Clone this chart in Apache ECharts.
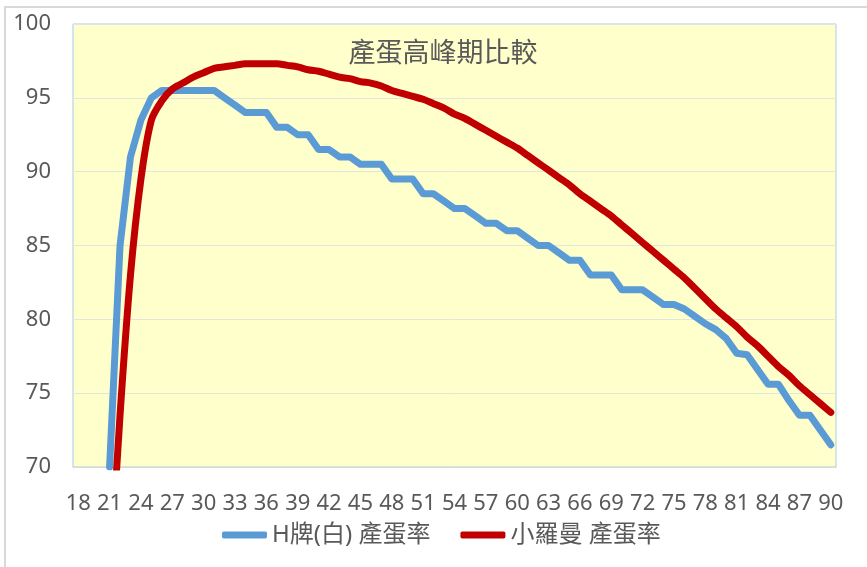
<!DOCTYPE html>
<html>
<head>
<meta charset="utf-8">
<script src="https://cdn.jsdelivr.net/npm/echarts@6/dist/echarts.min.js"></script>
<style>
  html, body { margin: 0; padding: 0; background: #ffffff; }
  #main { width: 867px; height: 567px; }
</style>
</head>
<body>
<div id="main"></div>
<script>
// 週齡 (weeks)
var weeks = ['18', '19', '20', '21', '22', '23', '24', '25', '26', '27', '28', '29', '30',
    '31', '32', '33', '34', '35', '36', '37', '38', '39', '40', '41', '42', '43', '44', '45',
    '46', '47', '48', '49', '50', '51', '52', '53', '54', '55', '56', '57', '58', '59', '60',
    '61', '62', '63', '64', '65', '66', '67', '68', '69', '70', '71', '72', '73', '74', '75',
    '76', '77', '78', '79', '80', '81', '82', '83', '84', '85', '86', '87', '88', '89', '90'];

// H牌(白) 產蛋率
var hBrand = [null, null, null,
    70, 85, 91, 93.5, 95, 95.5, 95.5, 95.5, 95.5, 95.5, 95.5,
    95, 94.5, 94, 94, 94, 93, 93, 92.5, 92.5,
    91.5, 91.5, 91, 91, 90.5, 90.5, 90.5, 89.5, 89.5, 89.5,
    88.5, 88.5, 88, 87.5, 87.5, 87, 86.5, 86.5, 86, 86,
    85.5, 85, 85, 84.5, 84, 84, 83, 83, 83, 82,
    82, 82, 81.5, 81, 81, 80.7, 80.2, 79.7, 79.3, 78.7,
    77.7, 77.6, 76.6, 75.6, 75.6, 74.5, 73.5, 73.5, 72.5, 71.5];

// 小羅曼 產蛋率
var lohmann = [null, null, null,
    62, 73.5, 83, 89.5, 93.5, 94.8, 95.6, 96.0, 96.4, 96.7, 97.0,
    97.1, 97.2, 97.3, 97.3, 97.3, 97.3, 97.2, 97.1, 96.9,
    96.8, 96.6, 96.4, 96.3, 96.1, 96.0, 95.8, 95.5, 95.3, 95.1,
    94.9, 94.6, 94.3, 93.9, 93.6, 93.2, 92.8, 92.4, 92.0, 91.6,
    91.1, 90.6, 90.1, 89.6, 89.1, 88.5, 88.0, 87.5, 87.0, 86.4,
    85.8, 85.2, 84.6, 84.0, 83.4, 82.8, 82.1, 81.4, 80.7, 80.1,
    79.5, 78.8, 78.2, 77.5, 76.8, 76.2, 75.5, 74.9, 74.3, 73.7];

var fontFam = '"Noto Sans", "Noto Sans CJK TC", sans-serif';

var chart = echarts.init(document.getElementById('main'));
var option = {
    backgroundColor: '#ffffff',
    animation: false,
    textStyle: { fontFamily: fontFam },
    title: {
        text: '產蛋高峰期比較',
        left: 438,
        textAlign: 'center',
        top: 36,
        textStyle: {
            color: '#595959',
            fontSize: 27,
            fontWeight: 'normal',
            fontFamily: fontFam
        }
    },
    graphic: [{
        type: 'rect',
        z: -1,
        shape: { x: 5, y: 7, width: 900, height: 620 },
        style: { fill: 'none', stroke: '#d9d9d9', lineWidth: 2 }
    }],
    legend: {
        left: 217,
        top: 518,
        itemWidth: 45,
        itemHeight: 7,
        itemGap: 30,
        icon: 'roundRect',
        textStyle: {
            color: '#595959',
            fontSize: 24,
            fontFamily: fontFam
        },
        data: ['H牌(白) 產蛋率', '小羅曼 產蛋率']
    },
    grid: {
        left: 73,
        right: 31,
        top: 24,
        bottom: 100,
        show: true,
        backgroundColor: '#ffffcc',
        borderColor: '#a9cbe9',
        borderWidth: 1
    },
    xAxis: {
        type: 'category',
        boundaryGap: true,
        data: weeks,
        axisTick: { show: false },
        axisLine: { lineStyle: { color: '#d9d9d9', width: 1 } },
        axisLabel: {
            interval: 2,
            margin: 26,
            color: '#595959',
            fontSize: 22,
            fontFamily: fontFam
        }
    },
    yAxis: {
        type: 'value',
        min: 70,
        max: 100,
        interval: 5,
        axisLine: { show: false },
        axisTick: { show: false },
        axisLabel: {
            margin: 22,
            color: '#595959',
            fontSize: 22,
            fontFamily: fontFam
        },
        splitLine: { lineStyle: { color: '#e3e6e0', width: 1 } }
    },
    series: [
        {
            name: 'H牌(白) 產蛋率',
            type: 'line',
            data: hBrand,
            showSymbol: false,
            connectNulls: false,
            itemStyle: { color: '#5b9bd5' },
            lineStyle: { color: '#5b9bd5', width: 7, cap: 'round', join: 'round' }
        },
        {
            name: '小羅曼 產蛋率',
            type: 'line',
            data: lohmann,
            showSymbol: false,
            smooth: 0.3,
            itemStyle: { color: '#c00000' },
            lineStyle: { color: '#c00000', width: 7, cap: 'round', join: 'round' }
        }
    ]
};
chart.setOption(option);
</script>
</body>
</html>
